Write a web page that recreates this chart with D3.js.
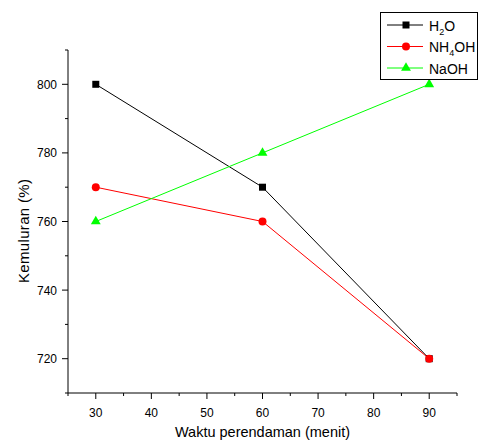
<!DOCTYPE html>
<html>
<head>
<meta charset="utf-8">
<script src="https://cdn.jsdelivr.net/npm/d3@7"></script>
<style>
  body { margin: 0; background: #fff; }
  text { font-family: "Liberation Sans", Arial, sans-serif; }
</style>
</head>
<body>
<div id="chart"></div>
<script>
// data
var waktu = [30, 60, 90];
var h2o = [800, 770, 720];
var nh4oh = [770, 760, 720];
var naoh = [760, 780, 800];
var xTicks = [30, 40, 50, 60, 70, 80, 90];
var yTicks = [720, 740, 760, 780, 800];

var series = [
  { name: "H2O", vals: h2o, color: "#000000", sym: d3.symbolSquare, size: 49 },
  { name: "NH4OH", vals: nh4oh, color: "#ff0000", sym: d3.symbolCircle, size: 50 },
  { name: "NaOH", vals: naoh, color: "#00ff00", sym: d3.symbolTriangle, size: 42 }
];

var W = 479, H = 441;
var mLeft = 68, mRight = 457, mTop = 50, mBottom = 393;

var svg = d3.select("#chart").append("svg")
  .attr("width", W).attr("height", H);

var x = d3.scaleLinear().domain([25, 95]).range([mLeft, mRight]);
var y = d3.scaleLinear().domain([710, 810]).range([mBottom, mTop]);

// axes
var xAxis = svg.append("g").attr("transform", "translate(0," + mBottom + ")");
xAxis.append("line").attr("x1", mLeft).attr("x2", mRight).attr("stroke", "#000");
xAxis.selectAll(".minor").data(d3.range(25, 96, 5)).enter().append("line")
  .attr("x1", d => x(d)).attr("x2", d => x(d))
  .attr("y1", 0).attr("y2", d => d % 10 == 0 ? 6 : 3)
  .attr("stroke", "#000");
xAxis.selectAll("text").data(xTicks).enter().append("text")
  .attr("x", d => x(d)).attr("y", 24)
  .attr("text-anchor", "middle").style("font-size", "12px")
  .text(d => d);

var yAxis = svg.append("g").attr("transform", "translate(" + mLeft + ",0)");
yAxis.append("line").attr("y1", mTop).attr("y2", mBottom).attr("stroke", "#000");
yAxis.selectAll(".minor").data(d3.range(710, 811, 10)).enter().append("line")
  .attr("y1", d => y(d)).attr("y2", d => y(d))
  .attr("x1", 0).attr("x2", d => d % 20 == 0 ? -6 : -3)
  .attr("stroke", "#000");
yAxis.selectAll("text").data(yTicks).enter().append("text")
  .attr("x", -11).attr("y", d => y(d) + 4.5)
  .attr("text-anchor", "end").style("font-size", "12px")
  .text(d => d);

// axis titles
svg.append("text")
  .attr("x", (mLeft + mRight) / 2).attr("y", 437)
  .attr("text-anchor", "middle").style("font-size", "14.5px")
  .text("Waktu perendaman (menit)");
svg.append("text")
  .attr("transform", "translate(29,231) rotate(-90)")
  .attr("text-anchor", "middle").style("font-size", "15px")
  .attr("textLength", 104).attr("lengthAdjust", "spacing")
  .text("Kemuluran (%)");

// lines and markers
var line = d3.line().x((d, i) => x(waktu[i])).y(d => y(d));
series.forEach(function (s) {
  svg.append("path")
    .attr("d", line(s.vals))
    .attr("fill", "none").attr("stroke", s.color).attr("stroke-width", 1);
  svg.selectAll(null).data(s.vals).enter().append("path")
    .attr("d", d3.symbol().type(s.sym).size(s.size))
    .attr("transform", (d, i) => "translate(" + x(waktu[i]) + "," + y(d) + ")")
    .attr("fill", s.color);
});

// legend
var lg = svg.append("g");
lg.append("rect").attr("x", 380.5).attr("y", 12.5).attr("width", 97).attr("height", 67)
  .attr("fill", "#fff").attr("stroke", "#000");
var labels = [["H", "2", "O"], ["NH", "4", "OH"], ["NaOH", "", ""]];
series.forEach(function (s, i) {
  var ly = 25 + i * 21.5;
  lg.append("line").attr("x1", 387).attr("x2", 423).attr("y1", ly).attr("y2", ly)
    .attr("stroke", s.color);
  lg.append("path")
    .attr("d", d3.symbol().type(s.sym).size(s.size))
    .attr("transform", "translate(406," + ly + ")")
    .attr("fill", s.color);
  var t = lg.append("text").attr("x", 429).attr("y", ly + 5.5).style("font-size", "14px");
  t.append("tspan").text(labels[i][0]);
  if (labels[i][1]) {
    t.append("tspan").attr("dy", 4).style("font-size", "9px").text(labels[i][1]);
    t.append("tspan").attr("dy", -4).text(labels[i][2]);
  }
});
</script>
</body>
</html>
